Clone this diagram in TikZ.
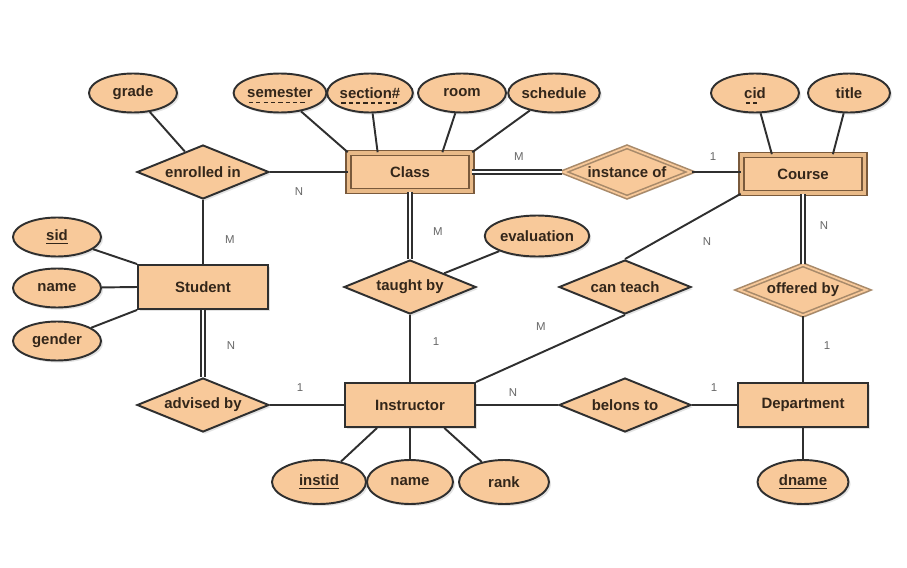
\documentclass[tikz,border=0pt]{standalone}
\usepackage{fontspec}
\setsansfont{Liberation Sans}
\usetikzlibrary{shapes.geometric, calc, shadows}

\definecolor{erfill}{HTML}{F8C99A}
\definecolor{erline}{HTML}{2F2F2F}
\definecolor{weakline}{HTML}{7A5A3C}
\definecolor{weakgap}{HTML}{E9BA88}
\definecolor{idline}{HTML}{A88A6A}
\definecolor{ertext}{HTML}{33261A}

% dashed underline for partial keys
\newsavebox\pkbox
\newcommand{\pkey}[1]{\sbox\pkbox{#1}\leavevmode\rlap{\raisebox{-3pt}[0pt][0pt]{\hbox to\wd\pkbox{\leaders\hbox to 4.2pt{\hfil\rule{2.4pt}{0.8pt}\hfil}\hfill}}}\usebox\pkbox}

\begin{document}
\begin{tikzpicture}[x=0.02cm, y=-0.02cm,
  erfont/.style={font=\sffamily\bfseries\fontsize{8.5}{10}\selectfont, text=ertext},
  shade/.style={drop shadow={shadow xshift=1.2pt, shadow yshift=-1.2pt, opacity=.22}},
  entity/.style={rectangle, draw=erline, fill=erfill, line width=1.1pt, shade,
                 minimum width=2.6cm, minimum height=0.88cm, erfont},
  weakentity/.style={entity, draw=weakline, double=weakgap, double distance=2pt,
                 line width=0.9pt, minimum width=2.46cm, minimum height=0.76cm},
  relation/.style={diamond, aspect=2.4, inner sep=0pt, draw=erline, fill=erfill,
                 line width=1.1pt, shade, minimum width=2.64cm, minimum height=1.08cm, erfont},
  idrelation/.style={relation, draw=idline, double=erfill, double distance=1pt,
                 line width=0.9pt, minimum width=2.56cm, minimum height=1.02cm},
  attr/.style={ellipse, inner sep=0pt, draw=erline, fill=erfill, line width=1.1pt, shade,
                 minimum width=1.76cm, minimum height=0.78cm, erfont},
  link/.style={draw=erline, line width=1.1pt},
  dbl/.style={draw=erline, line width=0.95pt, double=white, double distance=1.3pt},
  card/.style={font=\sffamily\fontsize{6.5}{7}\selectfont, text=black!60}]

  \useasboundingbox (0,0) rectangle (907,568);

  % entities
  \node[weakentity] (class) at (410,172) {Class};
  \node[weakentity] (course) at (803,174) {Course};
  \node[entity] (student) at (203,287) {Student};
  \node[entity] (instructor) at (410,405) {Instructor};
  \node[entity] (department) at (803,405) {Department};

  % relationships
  \node[relation] (enrolled) at (203,172) {enrolled in};
  \node[idrelation] (instance) at (627,172) {instance of};
  \node[relation] (taught) at (410,287) {taught by};
  \node[relation] (canteach) at (625,287) {can teach};
  \node[idrelation] (offered) at (803,290) {offered by};
  \node[relation] (advised) at (203,405) {advised by};
  \node[relation] (belongs) at (625,405) {belons to};

  % attributes
  \node[attr] (grade) at (133,93) {grade};
  \node[attr] (semester) at (280,93) {\pkey{semester}};
  \node[attr, minimum width=1.66cm] (section) at (370,93) {\pkey{section\#}};
  \node[attr] (room) at (462,93) {room};
  \node[attr] (schedule) at (554,93) {schedule};
  \node[attr] (cid) at (755,93) {\pkey{cid}};
  \node[attr, minimum width=1.64cm] (title) at (849,93) {title};
  \node[attr] (sid) at (57,237) {\underline{sid}};
  \node[attr] (sname) at (57,288) {name};
  \node[attr] (gender) at (57,341) {gender};
  \node[attr, minimum width=1.74cm, minimum height=0.82cm] (evaluation) at (537,236) {evaluation};
  \node[attr, minimum width=1.88cm, minimum height=0.88cm] (instid) at (319,482) {\underline{instid}};
  \node[attr, minimum width=1.72cm, minimum height=0.88cm] (iname) at (410,482) {name};
  \node[attr, minimum width=1.8cm, minimum height=0.88cm] (rank) at (504,482) {rank};
  \node[attr, minimum width=1.82cm, minimum height=0.88cm] (dname) at (803,482) {\underline{dname}};

  % connectors
  \draw[link] (grade) -- (enrolled);
  \draw[link] (semester) -- (class.north west);
  \draw[link] (section) -- ($(class.north west)!.24!(class.north east)$);
  \draw[link] (room) -- ($(class.north west)!.76!(class.north east)$);
  \draw[link] (schedule) -- (class.north east);
  \draw[link] (cid) -- ($(course.north west)!.25!(course.north east)$);
  \draw[link] (title) -- ($(course.north west)!.74!(course.north east)$);
  \draw[link] (enrolled) -- (class);
  \draw[link] (enrolled) -- (student);
  \draw[dbl] (class) -- (instance);
  \draw[link] (instance) -- (course.west |- instance);
  \draw[dbl] (class) -- (taught);
  \draw[link] (taught) -- (evaluation);
  \draw[link] (taught) -- (instructor);
  \draw[link] (course.south west) -- (canteach.north);
  \draw[link] (canteach.south) -- (instructor.north east);
  \draw[dbl] (course) -- (offered);
  \draw[link] (offered) -- (department);
  \draw[dbl] (student) -- (advised);
  \draw[link] (advised) -- (instructor);
  \draw[link] (instructor) -- (belongs);
  \draw[link] (belongs) -- (department);
  \draw[link] (sid) -- (student.north west);
  \draw[link] (sname) -- (student.west);
  \draw[link] (gender) -- (student.south west);
  \draw[link] ($(instructor.south west)!.25!(instructor.south east)$) -- (instid);
  \draw[link] (instructor) -- (iname);
  \draw[link] ($(instructor.south west)!.76!(instructor.south east)$) -- (rank);
  \draw[link] (department) -- (dname);

  % cardinalities
  \foreach \x/\y/\c [count=\i] in {299/192/N, 230/240/M, 519/157/M, 713/157/1,
      438/232/M, 436/342/1, 707/242/N, 541/327/M, 824/226/N, 827/346/1,
      231/346/N, 300/388/1, 513/393/N, 714/388/1}
    \node[card] (card\i) at (\x,\y) {\c};
\end{tikzpicture}
\end{document}
